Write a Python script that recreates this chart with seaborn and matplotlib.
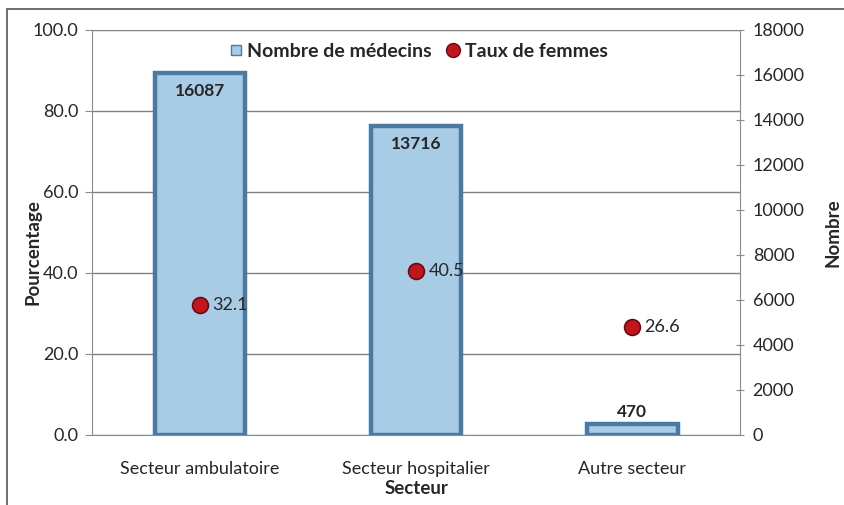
import numpy as np
import pandas as pd
import matplotlib.pyplot as plt
import seaborn as sns
from matplotlib.patches import Rectangle
from matplotlib.lines import Line2D

# data
secteurs = ['Secteur ambulatoire', 'Secteur hospitalier', 'Autre secteur']
nombre = [16087, 13716, 470]
taux_femmes = [32.1, 40.5, 26.6]

df = pd.DataFrame({'Secteur': secteurs, 'Nombre': nombre, 'Taux': taux_femmes})

sns.set_style('white')
plt.rcParams['font.family'] = ['Lato', 'DejaVu Sans']
txt = '#262626'

fig = plt.figure(figsize=(8.44, 5.05), dpi=100)
ax1 = fig.add_axes([0.109, 0.139, 0.768, 0.802])

# percentage axis (left) with grid
ax1.set_ylim(0, 100)
ax1.set_yticks(np.arange(0, 101, 20))
ax1.set_yticklabels(['%.1f' % v for v in np.arange(0, 101, 20)])
ax1.grid(axis='y', color='#808080', lw=1)
ax1.set_axisbelow(True)
ax1.set_ylabel('Pourcentage', fontsize=13.5, fontweight='bold', color=txt)
ax1.yaxis.set_label_coords(-0.078, 0.45)

# bars on right axis
ax2 = ax1.twinx()
sns.barplot(data=df, x='Secteur', y='Nombre', ax=ax2, color='#a8cce6',
            width=0.42, edgecolor='#4a7aa2', linewidth=3.2, saturation=1)
ax2.set_ylim(0, 18000)
ax2.set_yticks(np.arange(0, 18001, 2000))
ax2.set_ylabel('Nombre', fontsize=13.5, fontweight='bold', color=txt, labelpad=14)
for i, v in enumerate(nombre):
    if v > 2000:
        ax2.annotate(str(v), (i, v), xytext=(0, -7), textcoords='offset points',
                     ha='center', va='top', fontsize=12.5, fontweight='bold', color=txt)
    else:
        ax2.annotate(str(v), (i, v), xytext=(0, 3), textcoords='offset points',
                     ha='center', va='bottom', fontsize=12.5, fontweight='bold', color=txt)

# points on top
ax3 = ax1.twinx()
sns.scatterplot(data=df, x='Secteur', y='Taux', ax=ax3, s=130, color='#c0161c',
                edgecolor='#6d0a0e', linewidth=1.2, zorder=5, legend=False)
ax3.set_ylim(0, 100)
ax3.set_yticks([])
ax3.set_ylabel('')
for i, v in enumerate(taux_femmes):
    ax3.annotate('%.1f' % v, (i, v), xytext=(9, 0), textcoords='offset points',
                 ha='left', va='center', fontsize=13, color=txt)

for a in (ax1, ax2, ax3):
    a.set_xlim(-0.5, 2.5)
    for s in a.spines.values():
        s.set_visible(False)

ax1.spines['left'].set_visible(True)
ax1.spines['left'].set_color('#8c8c8c')
ax1.spines['bottom'].set_visible(True)
ax1.spines['bottom'].set_color('#8c8c8c')
ax2.spines['right'].set_visible(True)
ax2.spines['right'].set_color('#8c8c8c')

ax1.set_xticks(range(3))
ax1.set_xticklabels(secteurs)
ax1.set_xticks([-0.5, 0.5, 1.5, 2.5], minor=True)
ax1.tick_params(axis='x', which='major', length=0, pad=19, labelsize=13, labelcolor=txt)
ax1.tick_params(axis='x', which='minor', length=5, direction='inout', color='#8c8c8c')
ax1.tick_params(axis='y', length=5, direction='out', color='#8c8c8c', labelsize=13,
                labelcolor=txt, pad=5)
ax2.tick_params(axis='y', length=6, direction='inout', color='#8c8c8c', labelsize=13,
                labelcolor=txt, pad=6)
ax2.set_xlabel('')
ax1.set_xlabel('Secteur', fontsize=13.5, fontweight='bold', color=txt, labelpad=2)
ax2.tick_params(axis='x', bottom=False, labelbottom=False)
ax3.tick_params(axis='x', bottom=False, labelbottom=False)
ax3.set_xlabel('')

# legend
handles = [Line2D([], [], marker='s', ls='', markersize=6.5, markerfacecolor='#a8cce6',
                  markeredgecolor='#4a7aa2'),
           Line2D([], [], marker='o', ls='', markersize=10, markerfacecolor='#c0161c',
                  markeredgecolor='#6d0a0e')]
leg = ax3.legend(handles, ['Nombre de médecins', 'Taux de femmes'], loc='center',
                 bbox_to_anchor=(0.5, 0.946), ncol=2, frameon=False, handletextpad=0.0,
                 columnspacing=0.5, handlelength=1.2, prop={'weight': 'bold', 'size': 14})
for t in leg.get_texts():
    t.set_color(txt)

# outer border
fig.patches.append(Rectangle((7 / 844, -0.01), 1.0, 1 - 9 / 505 + 0.01, transform=fig.transFigure,
                             fill=False, edgecolor='#555555', lw=1.2))

fig.savefig('out.png', dpi=100)
